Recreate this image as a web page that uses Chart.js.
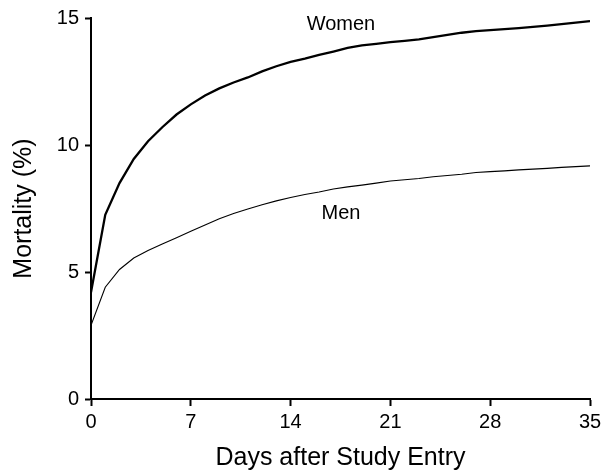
<!DOCTYPE html>
<html>
<head>
<meta charset="utf-8">
<script src="https://cdn.jsdelivr.net/npm/chart.js@4"></script>
<style>
  html, body { margin: 0; padding: 0; background: #fff; }
  #wrap { width: 608px; height: 471px; }
</style>
</head>
<body>
<div id="wrap"><canvas id="c" width="608" height="471"></canvas></div>
<script>
const days = [0,1,2,3,4,5,6,7,8,9,10,11,12,13,14,15,16,17,18,19,20,21,22,23,24,25,26,27,28,29,30,31,32,33,34,35];
const women = [4.2,7.25,8.5,9.45,10.15,10.7,11.2,11.6,11.95,12.23,12.46,12.66,12.9,13.1,13.27,13.4,13.55,13.68,13.82,13.92,13.98,14.05,14.1,14.16,14.25,14.34,14.42,14.48,14.52,14.56,14.6,14.65,14.7,14.76,14.82,14.88];
const men = [2.9,4.4,5.1,5.55,5.85,6.1,6.35,6.6,6.85,7.1,7.3,7.48,7.65,7.8,7.93,8.05,8.15,8.27,8.35,8.42,8.5,8.58,8.63,8.68,8.75,8.8,8.85,8.92,8.95,8.98,9.02,9.05,9.08,9.12,9.15,9.18];
const xTicks = [0,7,14,21,28,35];
const yTicks = [0,5,10,15];
const seriesNames = ['Women','Men'];
const labelDays = [17.53, 17.53];
const labelValues = [14.73, 7.3];

const FONT = '"Liberation Sans", Arial, Helvetica, sans-serif';

const lineLabels = {
  id: 'lineLabels',
  afterDatasetsDraw(chart) {
    const {ctx, scales: {x, y}} = chart;
    ctx.save();
    ctx.fillStyle = '#000';
    ctx.font = '20px ' + FONT;
    ctx.textAlign = 'center';
    ctx.textBaseline = 'middle';
    seriesNames.forEach((n, i) => {
      ctx.fillText(n, x.getPixelForValue(labelDays[i]), y.getPixelForValue(labelValues[i]));
    });
    ctx.restore();
  }
};

const axisCommon = {
  grid: { drawOnChartArea: false, drawTicks: true, tickLength: 7, tickWidth: 2, tickColor: '#000' },
  border: { display: true, color: '#000', width: 2 }
};

new Chart(document.getElementById('c'), {
  type: 'line',
  data: {
    datasets: [
      { label: seriesNames[0], data: days.map((d, i) => ({x: d, y: women[i]})), borderColor: '#000', borderWidth: 2.3, pointRadius: 0, tension: 0, fill: false },
      { label: seriesNames[1], data: days.map((d, i) => ({x: d, y: men[i]})), borderColor: '#000', borderWidth: 1.1, pointRadius: 0, tension: 0, fill: false }
    ]
  },
  options: {
    responsive: false,
    animation: false,
    layout: { padding: { top: 15, right: 18, left: 0, bottom: 0 } },
    plugins: { legend: { display: false }, tooltip: { enabled: false } },
    scales: {
      x: {
        type: 'linear', min: 0, max: 35,
        afterBuildTicks: s => { s.ticks = xTicks.map(v => ({value: v})); },
        afterFit: s => { s.height = 72; },
        ticks: { color: '#000', font: { family: FONT, size: 20 }, padding: 4, maxRotation: 0 },
        title: { display: true, text: 'Days after Study Entry', color: '#000', font: { family: FONT, size: 25, lineHeight: 1 }, padding: { top: 0, bottom: 0 } },
        grid: { ...axisCommon.grid, tickLength: 7 },
        border: axisCommon.border
      },
      y: {
        type: 'linear', min: 0, max: 15,
        afterBuildTicks: s => { s.ticks = yTicks.map(v => ({value: v})); },
        afterFit: s => { s.width = 91; },
        ticks: { color: '#000', font: { family: FONT, size: 20 }, padding: 6 },
        title: { display: true, text: 'Mortality (%)', color: '#000', font: { family: FONT, size: 25, lineHeight: 1 }, padding: { top: 12, bottom: 0 } },
        grid: { ...axisCommon.grid, tickLength: 6 },
        border: axisCommon.border
      }
    }
  },
  plugins: [lineLabels]
});
</script>
</body>
</html>
